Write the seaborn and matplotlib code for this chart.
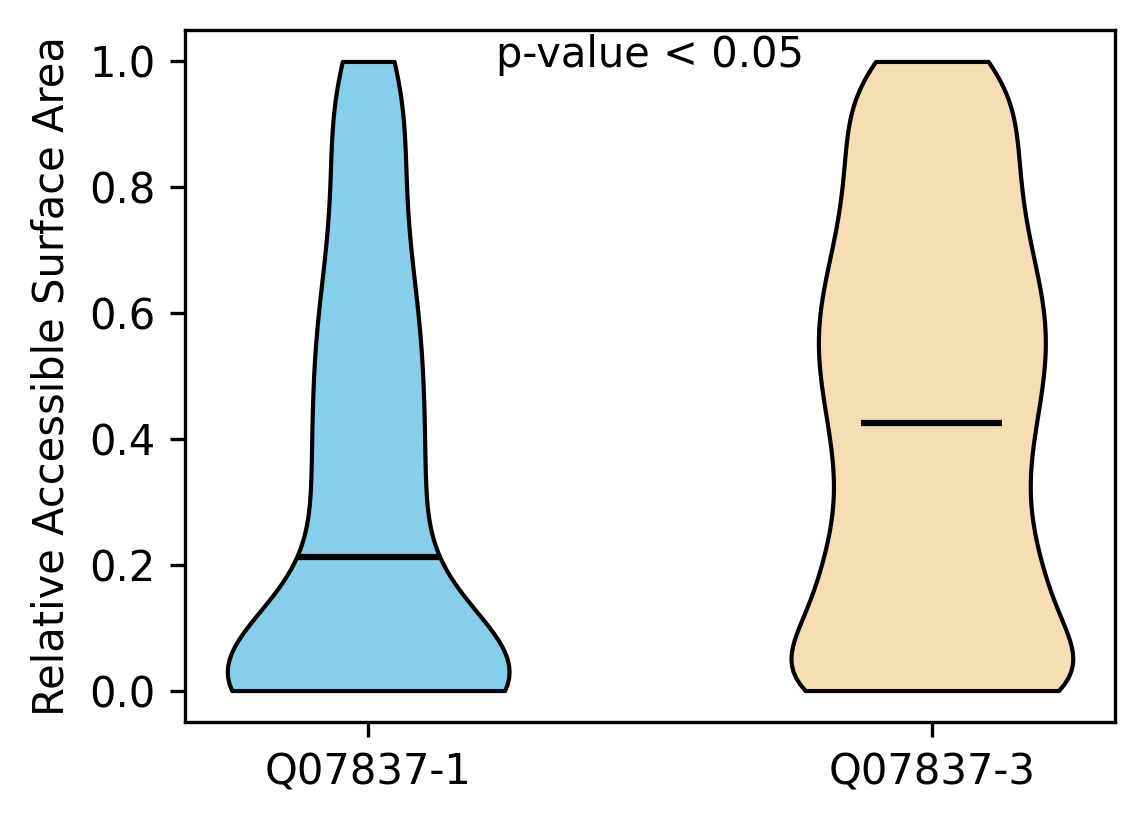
import matplotlib
matplotlib.use("Agg")
import matplotlib.pyplot as plt
import seaborn as sns
import numpy as np
import pandas as pd

# RSA values (binned) and how many residues fall on each value
rsa_values = [0.000, 0.025, 0.050, 0.075, 0.100, 0.125, 0.150, 0.175, 0.200, 0.225,
              0.250, 0.275, 0.300, 0.325, 0.350, 0.375, 0.400, 0.425, 0.450, 0.475,
              0.500, 0.525, 0.550, 0.575, 0.600, 0.625, 0.650, 0.675, 0.700, 0.725,
              0.750, 0.775, 0.800, 0.825, 0.850, 0.875, 0.900, 0.925, 0.950, 0.975,
              1.000]

counts_iso1 = [210, 24, 24, 24, 20, 16, 12, 8, 4, 14,
               14, 13, 13, 12, 12, 12, 12, 12, 12, 12,
               12, 12, 12, 12, 11, 11, 10, 9, 9, 8,
               7, 7, 8, 8, 8, 8, 8, 8, 8, 8,
               20]

counts_iso3 = [50, 7, 7, 9, 11, 10, 10, 9, 9, 8,
               8, 8, 7, 7, 8, 8, 8, 8, 9, 9,
               9, 9, 10, 10, 9, 9, 9, 8, 8, 8,
               7, 7, 7, 7, 7, 7, 7, 7, 6, 5,
               14]

isoforms = ["Q07837-1", "Q07837-3"]
colors = ["skyblue", "wheat"]
bw_factors = [0.32, 0.24]
p_text = "p-value < 0.05"

groups = [np.repeat(rsa_values, counts_iso1), np.repeat(rsa_values, counts_iso3)]
df = pd.concat([pd.DataFrame({"isoform": iso, "rsa": g}) for iso, g in zip(isoforms, groups)],
               ignore_index=True)

fig, ax = plt.subplots(figsize=(1144 / 300, 824 / 300), dpi=300)
fig.subplots_adjust(left=0.1617, right=0.9747, bottom=0.1238, top=0.9636)

for iso, col, bw in zip(isoforms, colors, bw_factors):
    sns.violinplot(data=df[df["isoform"] == iso], x="isoform", y="rsa", order=isoforms,
                   color=col, saturation=1, cut=0, inner=None, density_norm="width",
                   width=0.5, bw_method=bw, linecolor="black", linewidth=1, ax=ax)

# median lines like matplotlib's showmedians
for i, g in enumerate(groups):
    ax.hlines(np.median(g), i - 0.125, i + 0.125, color="black", linewidth=1.5)

ax.text(0.5, 1.01, p_text, ha="center", va="center", fontsize=10)

ax.set_xlim(-0.325, 1.325)
ax.set_ylim(-0.05, 1.05)
ax.set_yticks([0.0, 0.2, 0.4, 0.6, 0.8, 1.0])
ax.set_xlabel("")
ax.set_ylabel("Relative Accessible Surface Area")
ax.tick_params(labelsize=10)

fig.savefig("out.png", dpi=300)
